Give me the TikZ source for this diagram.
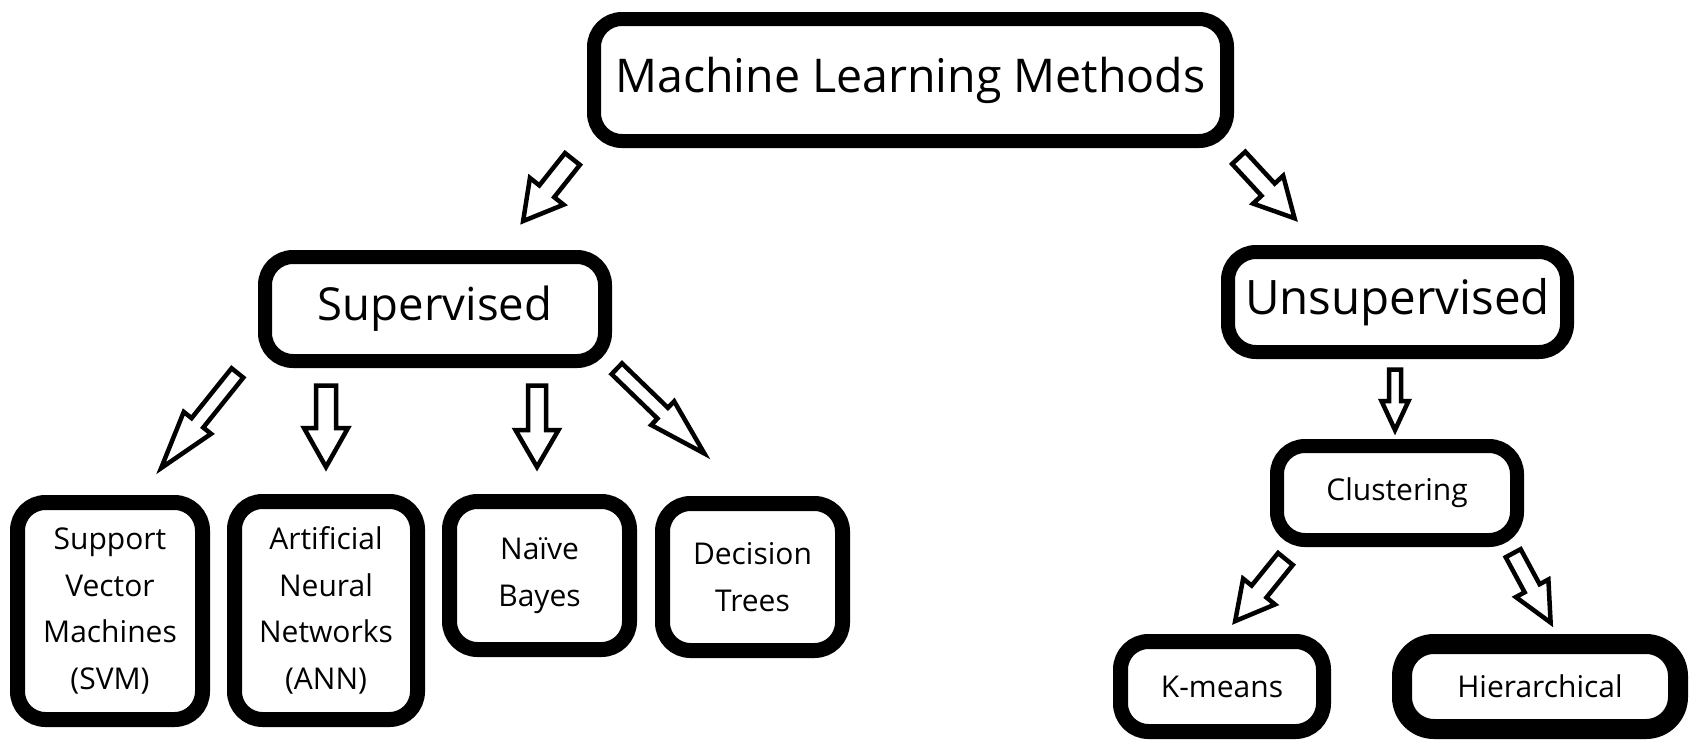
\documentclass[tikz,border=0pt]{standalone}
\usepackage{fontspec}
\setmainfont{Open Sans}
\usetikzlibrary{calc}
\tikzset{
  mlbox/.style={draw=black, fill=white, line width=14pt, rounded corners=28pt, align=center, inner sep=0pt},
  bigtext/.style={font=\fontsize{46.5}{55}\selectfont},
  smalltext/.style={font=\fontsize{30}{46.5}\selectfont},
  barrow/.style={draw=black, fill=white, line width=4.5pt, miter limit=10}
}
\newcommand\blockarrow[5]{%
  \path let \p1=($(#2)-(#1)$) in \pgfextra{%
    \pgfmathsetmacro\BAang{atan2(\y1,\x1)}%
    \pgfmathsetmacro\BAlen{veclen(\x1,\y1)}%
    \global\let\BAangG\BAang \global\let\BAlenG\BAlen} (#1);
  \draw[barrow, shift={(#1)}, rotate=\BAangG]
    (2.5,{-#3/2}) -- ({\BAlenG-5-#5},{-#3/2}) -- ({\BAlenG-5-#5},{-#4/2}) -- ({\BAlenG-5},0)
    -- ({\BAlenG-5-#5},{#4/2}) -- ({\BAlenG-5-#5},{#3/2}) -- (2.5,{#3/2}) -- cycle;
}
\begin{document}
\begin{tikzpicture}[x=1pt, y=-1pt]
\useasboundingbox (0,0) rectangle (1690,740);
% boxes
\node[mlbox, bigtext, minimum width=633pt, minimum height=122pt] (ml) at (910.5,80) {Machine Learning Methods};
\node[mlbox, font=\fontsize{45.5}{55}\selectfont, minimum width=340pt, minimum height=104pt] (sup) at (435,309) {Supervised};
\node[mlbox, font=\fontsize{47.5}{58}\selectfont, minimum width=339pt, minimum height=100pt] (uns) at (1397.5,302) {Unsupervised};
\node[mlbox, smalltext, minimum width=240pt, minimum height=94pt] (clu) at (1397,493) {Clustering};
\node[mlbox, smalltext, line width=15pt, minimum width=203pt, minimum height=90pt] (km) at (1222,686.5) {K-means};
\node[mlbox, smalltext, line width=20pt, rounded corners=32pt, minimum width=276pt, minimum height=85pt] (hie) at (1540,686.5) {Hierarchical};
\node[mlbox, smalltext, line width=15pt, minimum width=185pt, minimum height=217pt] (svm) at (110,611) {Support\\Vector\\Machines\\(SVM)};
\node[mlbox, smalltext, line width=15pt, minimum width=183pt, minimum height=218pt] (ann) at (326,610.5) {Artificial\\Neural\\Networks\\(ANN)};
\node[mlbox, smalltext, line width=15pt, minimum width=180pt, minimum height=148pt] (nb) at (539.5,575.5) {Naïve\\Bayes};
\node[mlbox, smalltext, line width=15pt, minimum width=180pt, minimum height=147pt] (dt) at (752.5,577) {Decision\\Trees};
% arrow end points
\coordinate (a1t) at (574,157);  \coordinate (a1h) at (520,225);
\coordinate (a2t) at (1237,156); \coordinate (a2h) at (1298,222);
\coordinate (a3t) at (239,371);  \coordinate (a3h) at (158,472);
\coordinate (a4t) at (326,383);  \coordinate (a4h) at (326,472);
\coordinate (a5t) at (537,383);  \coordinate (a5h) at (537,472);
\coordinate (a6t) at (615,367);  \coordinate (a6h) at (708,457);
\coordinate (a7t) at (1395,367); \coordinate (a7h) at (1395,435);
\coordinate (a8t) at (1287,557); \coordinate (a8h) at (1232,625);
\coordinate (a9t) at (1512,551); \coordinate (a9h) at (1553,627);
% arrows
\blockarrow{a1t}{a1h}{19}{43}{38}
\blockarrow{a2t}{a2h}{18}{41}{39}
\blockarrow{a3t}{a3h}{15}{35}{58}
\blockarrow{a4t}{a4h}{20}{44}{39}
\blockarrow{a5t}{a5h}{18}{43}{37}
\blockarrow{a6t}{a6h}{15}{33}{58}
\blockarrow{a7t}{a7h}{12}{27}{29}
\blockarrow{a8t}{a8h}{19}{41}{38}
\blockarrow{a9t}{a9h}{17}{37}{39}
\end{tikzpicture}
\end{document}
